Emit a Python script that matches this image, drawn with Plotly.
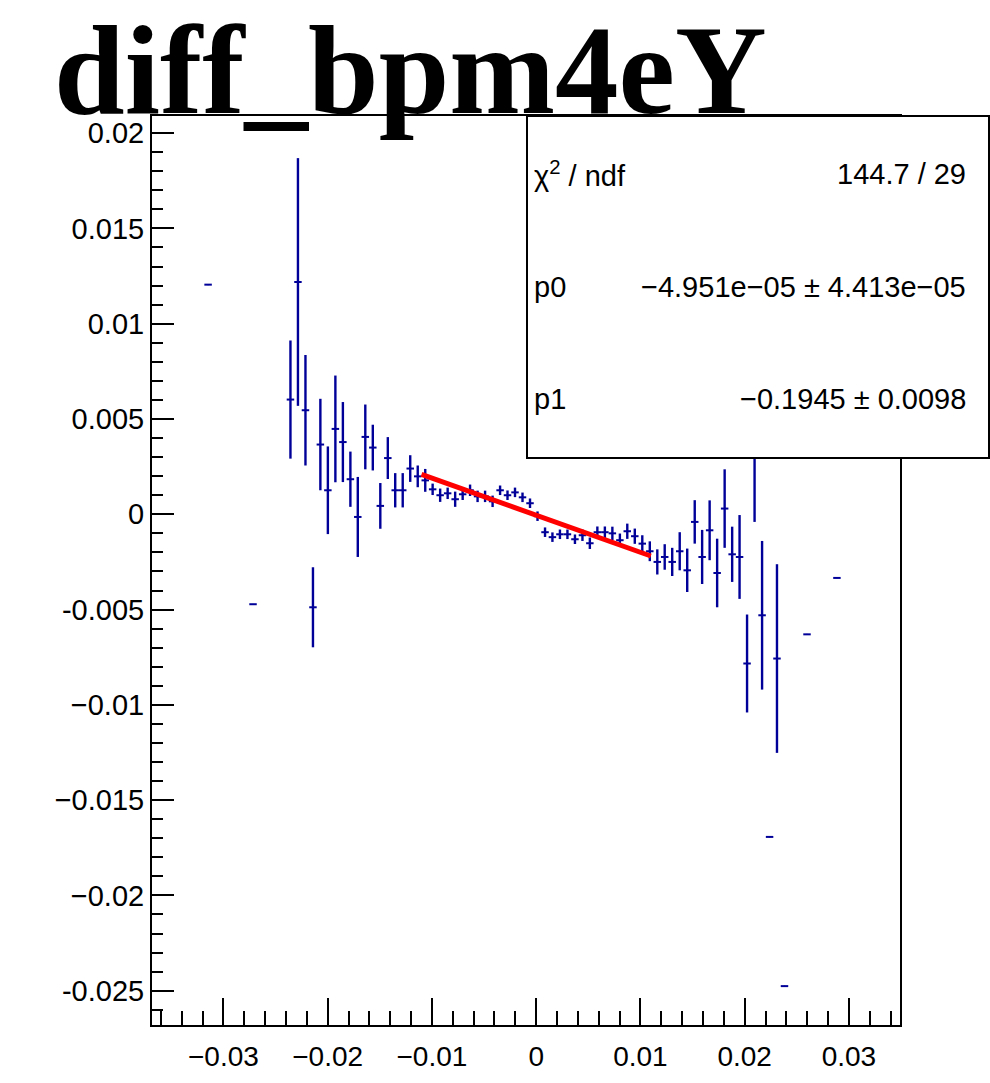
import plotly.graph_objects as go

# ---------------- data ----------------
bin_x = [-0.03147, -0.02716,
         -0.02357, -0.02285, -0.02213, -0.02141, -0.02070, -0.01998, -0.01926, -0.01854,
         -0.01782, -0.01711, -0.01639, -0.01567, -0.01495, -0.01423, -0.01352, -0.01280,
         -0.01208, -0.01136, -0.01064, -0.00993, -0.00921, -0.00849, -0.00777, -0.00705,
         -0.00634, -0.00562, -0.00490, -0.00418, -0.00346, -0.00275, -0.00203, -0.00131,
         -0.00059, 0.00013, 0.00085, 0.00156, 0.00228, 0.00300, 0.00372, 0.00444,
         0.00515, 0.00587, 0.00659, 0.00731, 0.00803, 0.00874, 0.00946, 0.01018,
         0.01090, 0.01162, 0.01233, 0.01305, 0.01377, 0.01449, 0.01521, 0.01592,
         0.01664, 0.01736, 0.01808, 0.01880, 0.01951, 0.02023, 0.02095, 0.02167,
         0.02239, 0.02310, 0.02382, 0.02598, 0.02885]

bin_y = [0.01205, -0.00472,
         0.00602, 0.01219, 0.00546, -0.00488, 0.00366, 0.00126, 0.00448, 0.00379,
         0.00184, -0.00014, 0.00406, 0.00350, 0.00044, 0.00295, 0.00126, 0.00126,
         0.00240, 0.00199, 0.00178, 0.00131, 0.00100, 0.00110, 0.00079, 0.00105,
         0.00126, 0.00094, 0.00094, 0.00068, 0.00126, 0.00100, 0.00115, 0.00089,
         0.00058, -0.00010, -0.00094, -0.00120, -0.00105, -0.00105, -0.00131, -0.00110,
         -0.00152, -0.00094, -0.00094, -0.00100, -0.00136, -0.00089, -0.00115, -0.00154,
         -0.00194, -0.00250, -0.00224, -0.00250, -0.00194, -0.00294, -0.00040, -0.00224,
         -0.00084, -0.00308, 0.00030, -0.00210, -0.00224, -0.00783, 0.00450, -0.00530,
         -0.01693, -0.00757, -0.02476, -0.00630, -0.00334]

bin_err = [0.0, 0.0,
           0.0031, 0.0065, 0.0029, 0.0021, 0.0024, 0.0023, 0.0028, 0.0021,
           0.00145, 0.0021, 0.0017, 0.0012, 0.0012, 0.0011, 0.0009, 0.0009,
           0.0007, 0.00057, 0.0006, 0.0003, 0.00035, 0.0003, 0.0004, 0.0003,
           0.0003, 0.0003, 0.0003, 0.0003, 0.00025, 0.00025, 0.00025, 0.00025,
           0.00025, 0.00025, 0.00025, 0.00025, 0.00025, 0.00025, 0.00025, 0.0003,
           0.0003, 0.0003, 0.0003, 0.00035, 0.00035, 0.0004, 0.0004, 0.00044,
           0.00052, 0.00066, 0.00067, 0.00074, 0.0010, 0.00114, 0.00114, 0.00142,
           0.00157, 0.0018, 0.00206, 0.00145, 0.0022, 0.00257, 0.0049, 0.0039,
           0.0, 0.00495, 0.0, 0.0, 0.0]

bin_half_width = 0.000359

# fit (pol1) parameters and range
p0 = -4.951e-05
p1 = -0.1945
fit_range = [-0.011, 0.011]

x_tickvals = [-0.03, -0.02, -0.01, 0, 0.01, 0.02, 0.03]
x_ticktext = ["\u22120.03", "\u22120.02", "\u22120.01", "0", "0.01", "0.02", "0.03"]
y_tickvals = [0.02, 0.015, 0.01, 0.005, 0, -0.005, -0.01, -0.015, -0.02, -0.025]
y_ticktext = ["0.02", "0.015", "0.01", "0.005", "0", "-0.005", "\u22120.01",
              "\u22120.015", "\u22120.02", "-0.025"]

stats_labels = ["\u03c7<sup>2</sup> / ndf", "p0", "p1"]
stats_values = ["144.7 / 29", "\u22124.951e\u221205 \u00b1 4.413e\u221205",
                "\u22120.1945 \u00b1 0.0098"]

title_text = "diff_bpm4eY"

# ---------------- figure ----------------
W, H = 990, 1083
L, R, T, B = 152, 90, 116, 58
pw, ph = W - L - R, H - T - B

def px2paper_x(px):
    return (px - L) / pw

def px2paper_y(py):
    return (H - B - py) / ph

blue = "#000099"
font_sans = "Liberation Sans, Arial, Helvetica, sans-serif"

fig = go.Figure()
fig.add_trace(go.Scatter(
    x=bin_x, y=bin_y, mode="markers",
    marker=dict(size=1, color=blue),
    error_y=dict(type="data", array=bin_err, color=blue, thickness=2.4, width=0),
    error_x=dict(type="constant", value=bin_half_width, color=blue, thickness=2, width=0),
    showlegend=False, hoverinfo="skip"))

fit_y = [p0 + p1 * fx for fx in fit_range]
fig.add_trace(go.Scatter(x=fit_range, y=fit_y, mode="lines",
                         line=dict(color="#ff0000", width=5), showlegend=False))

fig.update_layout(
    width=W, height=H, autosize=False,
    margin=dict(l=L, r=R, t=T, b=B, pad=0),
    paper_bgcolor="white", plot_bgcolor="white",
    font=dict(family=font_sans, size=28, color="black"),
    xaxis=dict(range=[-0.03685, 0.0349], showgrid=False, zeroline=False,
               showline=True, linecolor="black", linewidth=2, mirror=True,
               automargin=False,
               ticks="inside", ticklen=27, tickwidth=2, tickcolor="black",
               tickmode="array", tickvals=x_tickvals, ticktext=x_ticktext,
               ticklabelstandoff=5,
               minor=dict(ticks="inside", ticklen=14, tickwidth=2, tickcolor="black",
                          tickmode="linear", tick0=0, dtick=0.002, showgrid=False),
               tickfont=dict(size=28, family=font_sans)),
    yaxis=dict(range=[-0.0268, 0.0209], showgrid=False, zeroline=False,
               showline=True, linecolor="black", linewidth=2, mirror=True,
               automargin=False,
               ticks="inside", ticklen=22, tickwidth=2, tickcolor="black",
               tickmode="array", tickvals=y_tickvals, ticktext=y_ticktext,
               ticklabelstandoff=0,
               minor=dict(ticks="inside", ticklen=11, tickwidth=2, tickcolor="black",
                          tickmode="linear", tick0=0, dtick=0.001, showgrid=False),
               tickfont=dict(size=29, family=font_sans)),
)

# stats box
fig.add_shape(type="rect", xref="paper", yref="paper",
              x0=px2paper_x(527), x1=px2paper_x(989),
              y0=px2paper_y(458), y1=px2paper_y(116),
              fillcolor="white", line=dict(color="black", width=2), layer="above")

row_y = [174, 287, 399]
for lab, val, ry in zip(stats_labels, stats_values, row_y):
    fig.add_annotation(xref="paper", yref="paper", x=px2paper_x(532), y=px2paper_y(ry),
                       xanchor="left", yanchor="middle", text=lab, showarrow=False,
                       font=dict(size=29, family=font_sans, color="black"))
    fig.add_annotation(xref="paper", yref="paper", x=px2paper_x(968), y=px2paper_y(ry),
                       xanchor="right", yanchor="middle", text=val, showarrow=False,
                       font=dict(size=29, family=font_sans, color="black"))

# title
fig.add_annotation(xref="paper", yref="paper", x=px2paper_x(52), y=px2paper_y(70),
                   xanchor="left", yanchor="middle", text="<b>" + title_text + "</b>",
                   showarrow=False,
                   font=dict(size=127, family="Liberation Serif, Times New Roman, serif",
                             color="black"))

fig.write_html("out.html",
               config={"displayModeBar": False},
               post_script="document.body.style.margin='0px';"
                           "document.body.style.overflow='hidden';")
